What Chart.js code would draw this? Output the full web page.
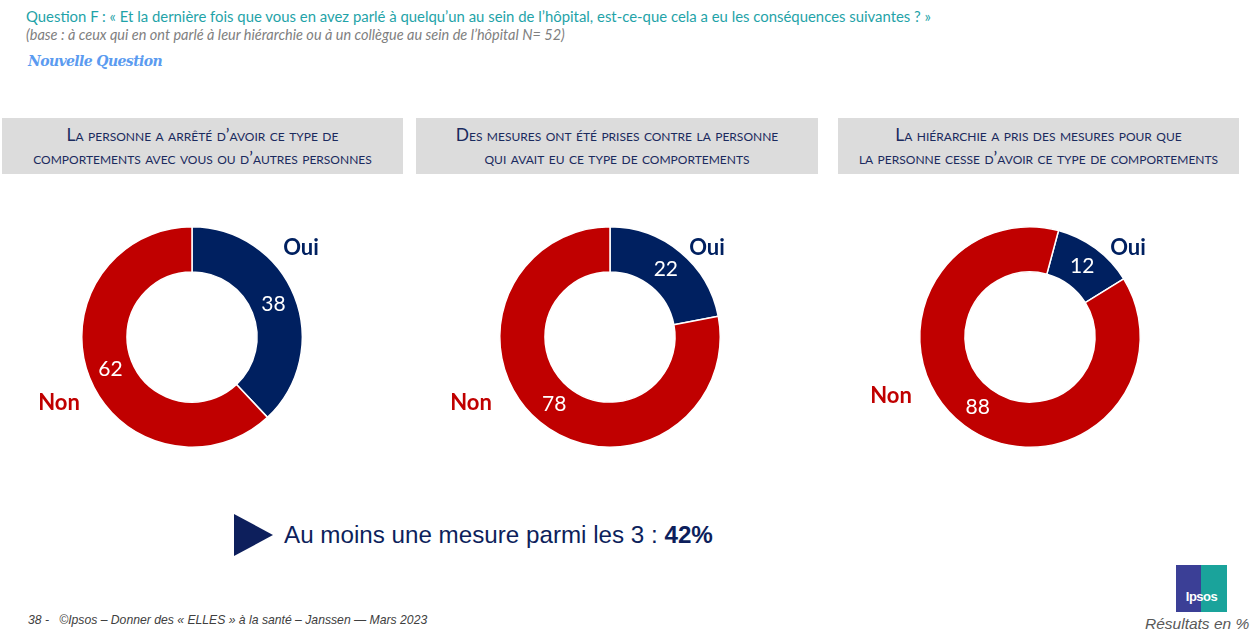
<!DOCTYPE html>
<html lang="fr">
<head>
<meta charset="utf-8">
<script src="https://cdn.jsdelivr.net/npm/chart.js@4.4.1/dist/chart.umd.min.js"></script>
<style>
  html, body { margin: 0; padding: 0; background: #fff; }
  body { width: 1255px; height: 636px; position: relative; overflow: hidden; font-family: Lato, "Open Sans", sans-serif; }
  .abs { position: absolute; white-space: nowrap; }
  #titre { left: 26px; top: 7px; font-size: 14.9px; color: #1fa3a8; }
  #base { left: 26px; top: 26px; font-size: 14.5px; color: #7f7f7f; font-style: italic; }
  #nouvelle { left: 28px; top: 53px; font-size: 14px; color: #5b9bf0; font-style: italic; font-weight: bold; font-family: "DejaVu Serif", serif; letter-spacing: -0.6px; }
  .entete { position: absolute; top: 118px; height: 56px; background: #dcdcdc; color: #1a2a5e; font-variant: small-caps; font-size: 17.4px; line-height: 23px; text-align: center; display: flex; align-items: center; justify-content: center; }
  .donut { position: absolute; top: 217px; width: 420px; height: 240px; }
  #fleche { left: 234px; top: 514px; width: 0; height: 0; border-top: 21px solid transparent; border-bottom: 21px solid transparent; border-left: 39px solid #0d1f5c; }
  #mesure { left: 284px; top: 521px; font-family: "Liberation Sans", Arial, sans-serif; font-size: 24.2px; color: #0d1f5c; }
  #page { left: 28px; top: 613px; font-family: "Liberation Sans", Arial, sans-serif; font-size: 12.2px; color: #404040; font-style: italic; }
  #resultats { left: 1145px; top: 615px; font-family: "Liberation Sans", Arial, sans-serif; font-size: 15.5px; color: #595959; font-style: italic; }
  #logo { left: 1176px; top: 565px; width: 51px; height: 47px; background: linear-gradient(90deg, #3b3f96 0 50%, #1aa39b 50% 100%); color: #fff; font-family: "Liberation Sans", Arial, sans-serif; font-weight: bold; font-size: 13px; text-align: center; line-height: 64px; letter-spacing: -0.5px; }
</style>
</head>
<body>
<div id="titre" class="abs">Question F : « Et la dernière fois que vous en avez parlé à quelqu’un au sein de l’hôpital, est-ce-que cela a eu les conséquences suivantes ? »</div>
<div id="base" class="abs">(base : à ceux qui en ont parlé à leur hiérarchie ou à un collègue au sein de l’hôpital N= 52)</div>
<div id="nouvelle" class="abs">Nouvelle Question</div>

<div class="entete" style="left:2px;width:401px;">La personne a arrêté d’avoir ce type de<br>comportements avec vous ou d’autres personnes</div>
<div class="entete" style="left:416px;width:402px;">Des mesures ont été prises contre la personne<br>qui avait eu ce type de comportements</div>
<div class="entete" style="left:838px;width:401px;">La hiérarchie a pris des mesures pour que<br>la personne cesse d’avoir ce type de comportements</div>

<div class="donut" style="left:-18px;"><canvas id="c1"></canvas></div>
<div class="donut" style="left:400px;"><canvas id="c2"></canvas></div>
<div class="donut" style="left:820px;"><canvas id="c3"></canvas></div>

<div id="fleche" class="abs"></div>
<div id="mesure" class="abs">Au moins une mesure parmi les 3 : <b>42%</b></div>

<div id="page" class="abs">38 -&nbsp;&nbsp; ©Ipsos – Donner des « ELLES » à la santé – Janssen — Mars 2023</div>
<div id="logo" class="abs">Ipsos</div>
<div id="resultats" class="abs">Résultats en %</div>

<script>
const categories = ['Oui', 'Non'];
const oui = [38, 22, 12];
const non = [62, 78, 88];
const rotations = [0, 0, 15];

const couleurs = ['#002060', '#c00000'];
// décalage des libellés Oui / Non par rapport au centre de chaque anneau
const decalages = [
  { oui: [109, -89], non: [-133, 66] },
  { oui: [97, -89], non: [-139, 66] },
  { oui: [98, -89], non: [-139, 59] }
];

// étiquettes : valeurs dans les segments, Oui / Non à l'extérieur
const etiquettes = {
  id: 'etiquettes',
  afterDatasetsDraw(chart, args, opts) {
    const ctx = chart.ctx;
    const meta = chart.getDatasetMeta(0);
    const data = chart.data.datasets[0].data;
    const d = decalages[opts.index];
    ctx.save();
    ctx.textAlign = 'center';
    ctx.textBaseline = 'middle';
    ctx.fillStyle = '#fff';
    ctx.font = '21px Lato, "Open Sans", sans-serif';
    meta.data.forEach((arc, i) => {
      const p = arc.getCenterPoint();
      ctx.fillText(data[i], p.x, p.y);
    });
    const a = meta.data[0];
    ctx.font = 'bold 22px Lato, "Open Sans", sans-serif';
    ctx.fillStyle = couleurs[0];
    ctx.fillText(categories[0], a.x + d.oui[0], a.y + d.oui[1]);
    ctx.fillStyle = couleurs[1];
    ctx.fillText(categories[1], a.x + d.non[0], a.y + d.non[1]);
    ctx.restore();
  }
};

function donut(id, i) {
  new Chart(document.getElementById(id), {
    type: 'doughnut',
    data: {
      labels: categories,
      datasets: [{
        data: [oui[i], non[i]],
        backgroundColor: couleurs,
        borderColor: '#fff',
        borderWidth: 1.5
      }]
    },
    options: {
      responsive: true,
      maintainAspectRatio: false,
      animation: false,
      cutout: '59%',
      rotation: rotations[i],
      layout: { padding: { top: 9, bottom: 9 } },
      plugins: { legend: { display: false }, tooltip: { enabled: false }, etiquettes: { index: i } }
    },
    plugins: [etiquettes]
  });
}

donut('c1', 0);
donut('c2', 1);
donut('c3', 2);
</script>
</body>
</html>
